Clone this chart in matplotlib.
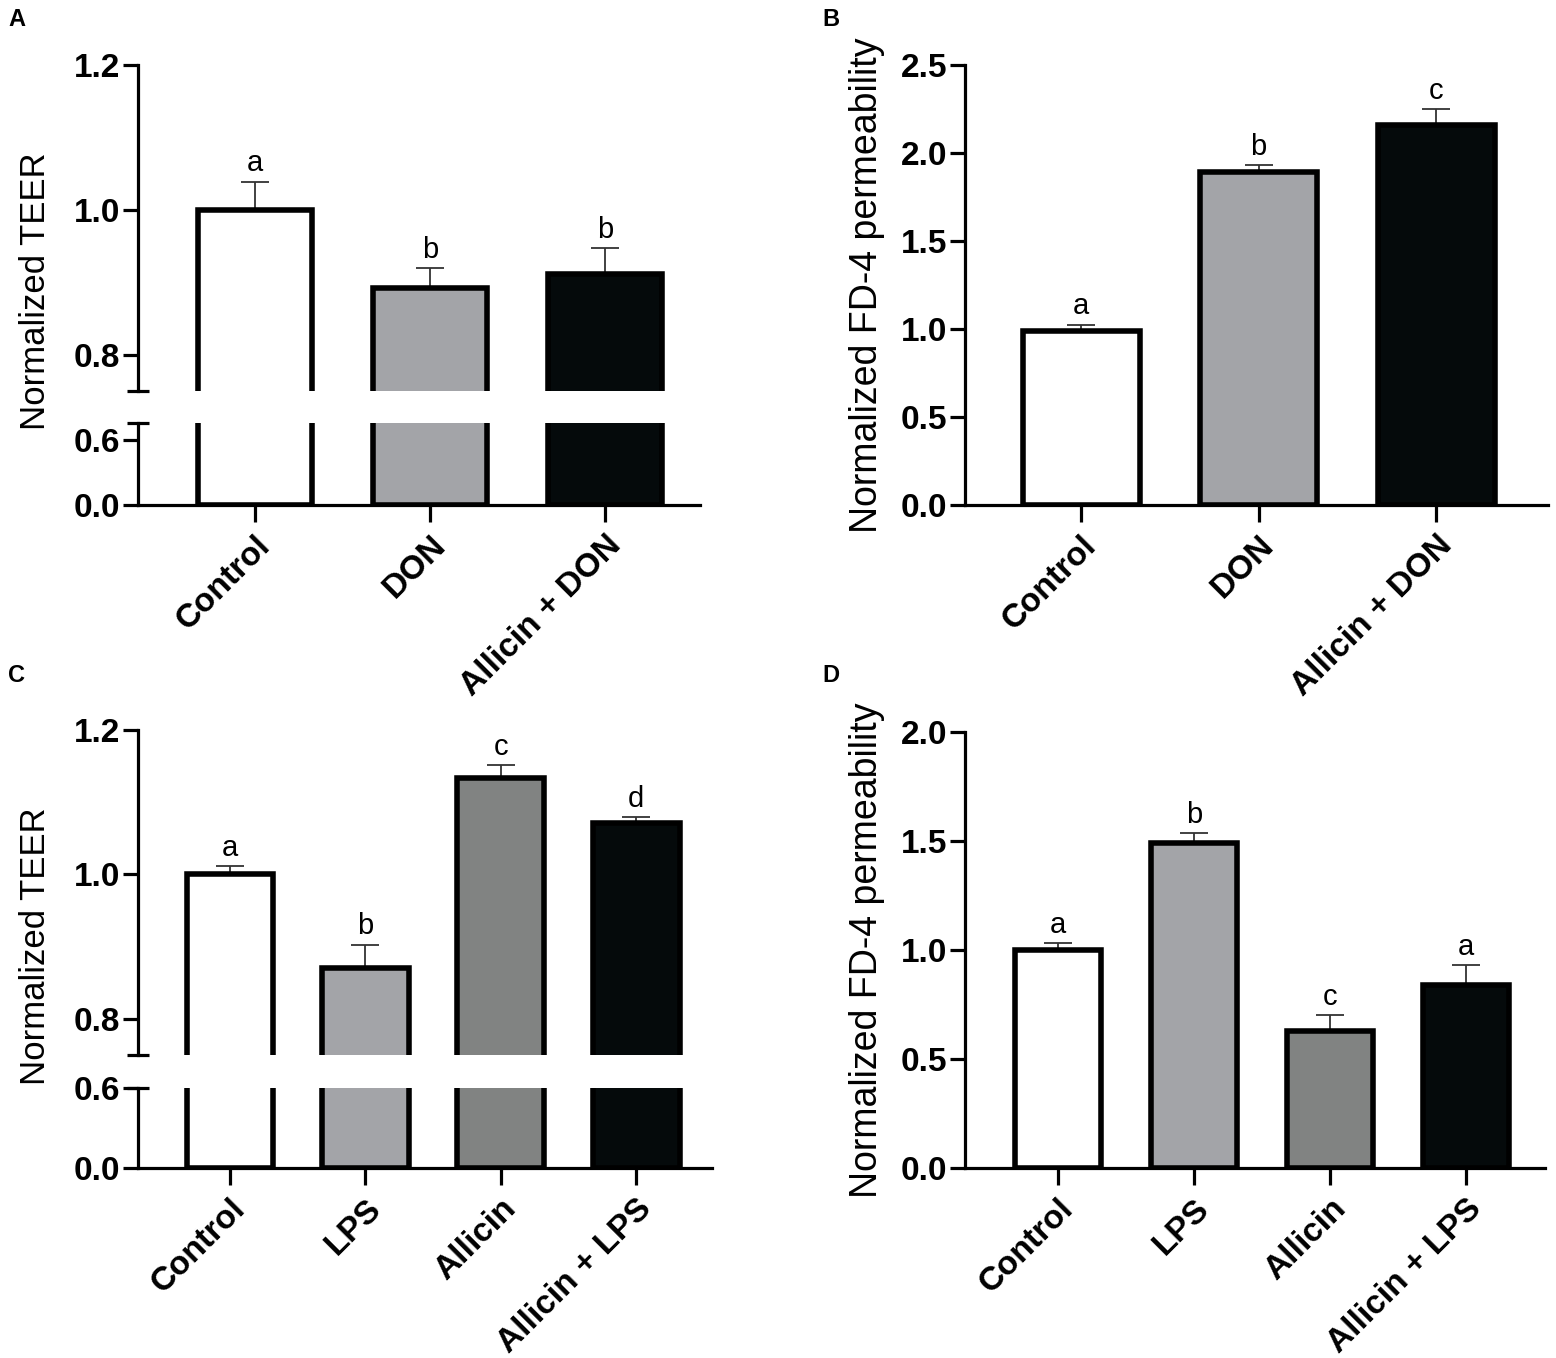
import numpy as np
import matplotlib
matplotlib.use('Agg')
import matplotlib.pyplot as plt
from matplotlib.ticker import FormatStrFormatter

plt.rcParams['font.family'] = ['Liberation Sans', 'DejaVu Sans']

# data
groups_don = ["Control", "DON", "Allicin + DON"]
teer_don = [1.0, 0.892, 0.911]
teer_don_err = [0.039, 0.028, 0.036]
teer_don_sig = ["a", "b", "b"]
fd4_don = [0.99, 1.89, 2.16]
fd4_don_err = [0.035, 0.04, 0.09]
fd4_don_sig = ["a", "b", "c"]

groups_lps = ["Control", "LPS", "Allicin", "Allicin + LPS"]
teer_lps = [1.0, 0.871, 1.133, 1.071]
teer_lps_err = [0.012, 0.032, 0.019, 0.009]
teer_lps_sig = ["a", "b", "c", "d"]
fd4_lps = [1.0, 1.49, 0.628, 0.84]
fd4_lps_err = [0.03, 0.045, 0.072, 0.09]
fd4_lps_sig = ["a", "b", "c", "a"]

colors_don = ["#ffffff", "#a3a4a8", "#050a0b"]
colors_lps = ["#ffffff", "#a3a4a8", "#818382", "#050a0b"]

W, H = 1556, 1358
fig = plt.figure(figsize=(W/100, H/100), dpi=100)

SPINE = 2.3
EDGE = 4.0
TICKFS = 24
XFS = 24


def px_axes(l, t, r, b):
    return fig.add_axes([l/W, 1-b/H, (r-l)/W, (b-t)/H])


def style(ax, bottom=True):
    for s in ['top', 'right']:
        ax.spines[s].set_visible(False)
    ax.spines['left'].set_linewidth(SPINE)
    ax.spines['bottom'].set_linewidth(SPINE)
    ax.spines['bottom'].set_visible(bottom)
    ax.tick_params(axis='y', direction='out', length=11, width=SPINE,
                   labelsize=TICKFS, pad=2)
    ax.yaxis.set_major_formatter(FormatStrFormatter('%.1f'))
    ax.set_facecolor('none')


def draw_bars(ax, vals, errs, cols, sig, width, annotate=True):
    x = np.arange(len(vals))
    ax.bar(x, vals, width, color=cols, edgecolor='black', linewidth=EDGE, zorder=2)
    if annotate:
        ax.errorbar(x, vals, yerr=[np.zeros(len(vals)), errs], fmt='none',
                    ecolor='#333333', elinewidth=1.3, capsize=10, capthick=1.3, zorder=1)
        for xi, v, e, s in zip(x, vals, errs, sig):
            ax.annotate(s, (xi, v + e), xytext=(0, 3), textcoords='offset points',
                        ha='center', va='bottom', fontsize=21)


def xlabels(ax, groups):
    ax.set_xticks(np.arange(len(groups)))
    ax.set_xticklabels(groups, rotation=45, ha='right', rotation_mode='anchor',
                       fontsize=XFS, fontweight='bold')
    ax.tick_params(axis='x', direction='out', length=12, width=SPINE, pad=6)


def bold_y(ax):
    for t in ax.get_yticklabels():
        t.set_fontweight('bold')


def break_mark(ax, ypos, axw_px):
    d = 11 / axw_px
    ax.plot([-d, d], [ypos, ypos], transform=ax.transAxes, color='black',
            lw=SPINE, clip_on=False, solid_capstyle='butt')


def broken_panel(l, r, t_up, b_up, t_lo, b_lo, lo_top, xlim, width,
                 vals, errs, cols, sig, groups):
    up = px_axes(l, t_up, r, b_up)
    lo = px_axes(l, t_lo, r, b_lo)
    for ax in (up, lo):
        draw_bars(ax, vals, errs, cols, sig, width, annotate=(ax is up))
        ax.set_xlim(*xlim)
    up.set_ylim(0.75, 1.2)
    up.set_yticks([0.8, 1.0, 1.2])
    lo.set_ylim(0, lo_top)
    lo.set_yticks([0.0, 0.6])
    style(up, bottom=False)
    style(lo)
    up.set_xticks([])
    xlabels(lo, groups)
    bold_y(up)
    bold_y(lo)
    break_mark(up, 0, r - l)
    break_mark(lo, 1, r - l)
    return up, lo


def single_panel(l, r, t, b, ylim, yticks, xlim, width, vals, errs, cols, sig, groups):
    ax = px_axes(l, t, r, b)
    draw_bars(ax, vals, errs, cols, sig, width)
    ax.set_xlim(*xlim)
    ax.set_ylim(*ylim)
    ax.set_yticks(yticks)
    style(ax)
    xlabels(ax, groups)
    bold_y(ax)
    return ax


# A
broken_panel(138, 700, 65, 391, 423, 505, 0.76, (-0.667, 2.54), 0.65,
             teer_don, teer_don_err, colors_don, teer_don_sig, groups_don)
# B
single_panel(965, 1548, 65, 505, (0, 2.5), np.arange(0, 2.51, 0.5), (-0.654, 2.63), 0.66,
             fd4_don, fd4_don_err, colors_don, fd4_don_sig, groups_don)
# C
broken_panel(138, 712, 730, 1055, 1088, 1168, 0.6, (-0.68, 3.56), 0.64,
             teer_lps, teer_lps_err, colors_lps, teer_lps_sig, groups_lps)
# D
single_panel(965, 1545, 732, 1168, (0, 2.0), np.arange(0, 2.01, 0.5), (-0.684, 3.58), 0.63,
             fd4_lps, fd4_lps_err, colors_lps, fd4_lps_sig, groups_lps)

# axis titles
fig.text(36/W, 1-291/H, "Normalized TEER", rotation=90, ha='center', va='center', fontsize=25)
fig.text(36/W, 1-946/H, "Normalized TEER", rotation=90, ha='center', va='center', fontsize=25)
fig.text(867/W, 1-285/H, "Normalized FD-4 permeability", rotation=90, ha='center', va='center', fontsize=27)
fig.text(867/W, 1-950/H, "Normalized FD-4 permeability", rotation=90, ha='center', va='center', fontsize=27)

# panel letters
for lab, xp, yp in [("A", 8, 20), ("B", 822, 20), ("C", 8, 675), ("D", 822, 675)]:
    fig.text(xp/W, 1-yp/H, lab, ha='left', va='center', fontsize=17, fontweight='bold')

fig.savefig("out.png", dpi=100)
